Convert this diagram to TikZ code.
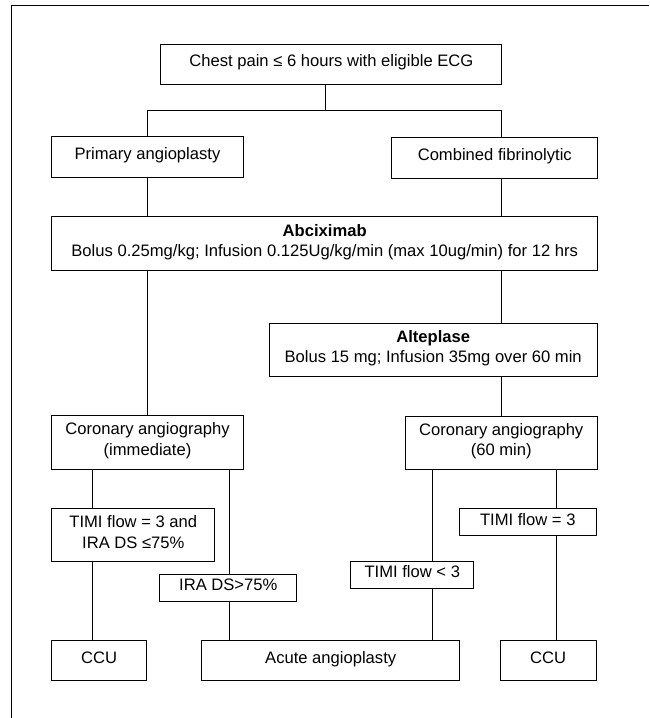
\documentclass[tikz,border=0pt]{standalone}
\usepackage{fontspec}
\setmainfont{Liberation Sans}
\tikzset{
    box/.style={
        rectangle, draw, fill=white,
        align=center,
        inner sep=0pt,
        text depth=6.5pt,
        font=\fontsize{16.6}{20.5}\selectfont,
    },
    line/.style={
        draw, line width=1pt,
    },
}
\begin{document}
\begin{tikzpicture}[x=1pt,y=-1pt,line width=1pt]
    \useasboundingbox (0,0) rectangle (649,718);
    % frame of the figure
    \draw (11.7,718) -- (11.7,5.3) -- (649,5.3);
    \node [box, minimum width=341pt, minimum height=40pt] (chest) at (331.4,64.2) {Chest pain ≤ 6 hours with eligible ECG};
    \node [box, minimum width=191.6pt, minimum height=40.6pt] (primary) at (147.5,157) {Primary angioplasty};
    \node [box, minimum width=205.7pt, minimum height=40.6pt] (combined) at (494.8,158) {Combined fibrinolytic};
    \node [box, minimum width=546pt, minimum height=53.8pt] (abcix) at (324.7,243.6)
        {\textbf{Abciximab}\\Bolus 0.25mg/kg; Infusion 0.125Ug/kg/min (max 10ug/min) for 12 hrs};
    \node [box, minimum width=327.7pt, minimum height=53pt] (alte) at (433.2,349.8)
        {\textbf{Alteplase}\\Bolus 15 mg; Infusion 35mg over 60 min};
    \node [box, minimum width=191.6pt, minimum height=54pt] (corimm) at (147.5,442) {Coronary angiography\\(immediate)};
    \node [box, minimum width=191.7pt, minimum height=53pt] (corsixty) at (501.2,442.5) {Coronary angiography\\(60 min)};
    \node [box, minimum width=163.3pt, minimum height=52.6pt] (timiand) at (133.3,535) {TIMI flow = 3 and\\IRA DS ≤75\%};
    \node [box, minimum width=136.7pt, minimum height=26.6pt] (ira) at (228.3,588) {IRA DS>75\%};
    \node [box, minimum width=122.7pt, minimum height=26.7pt] (timilow) at (412.3,574.7) {TIMI flow < 3};
    \node [box, minimum width=137pt, minimum height=26.7pt] (timieq) at (527.8,522.3) {TIMI flow = 3};
    \node [box, minimum width=95pt, minimum height=39.6pt] (cculeft) at (99.2,660.5) {CCU};
    \node [box, minimum width=258pt, minimum height=39.6pt] (acute) at (330.7,660.5) {Acute angioplasty};
    \node [box, minimum width=95.7pt, minimum height=39.5pt] (ccuright) at (548.2,660.7) {CCU};
    % x of the vertical runs
    \coordinate (top) at (325,0);
    \coordinate (bus) at (0,110.7);
    \coordinate (lt) at (147.7,0);
    \coordinate (rt) at (501.5,0);
    \coordinate (xa) at (92.7,0);
    \coordinate (xb) at (229.3,0);
    \coordinate (xc) at (432.5,0);
    \coordinate (xd) at (556,0);
    \draw[line] (chest.south-|top) -- (top|-bus);
    \draw[line] (primary.north-|lt) -- (lt|-bus) -- (rt|-bus) -- (combined.north-|rt);
    \draw[line] (primary.south-|lt) -- (abcix.north-|lt);
    \draw[line] (combined.south-|rt) -- (abcix.north-|rt);
    \draw[line] (abcix.south-|lt) -- (corimm.north-|lt);
    \draw[line] (abcix.south-|rt) -- (alte.north-|rt);
    \draw[line] (alte.south-|rt) -- (corsixty.north-|rt);
    \draw[line] (corimm.south-|xa) -- (timiand.north-|xa);
    \draw[line] (timiand.south-|xa) -- (cculeft.north-|xa);
    \draw[line] (corimm.south-|xb) -- (ira.north-|xb);
    \draw[line] (ira.south-|xb) -- (acute.north-|xb);
    \draw[line] (corsixty.south-|xc) -- (timilow.north-|xc);
    \draw[line] (timilow.south-|xc) -- (acute.north-|xc);
    \draw[line] (corsixty.south-|xd) -- (timieq.north-|xd);
    \draw[line] (timieq.south-|xd) -- (ccuright.north-|xd);
\end{tikzpicture}
\end{document}
